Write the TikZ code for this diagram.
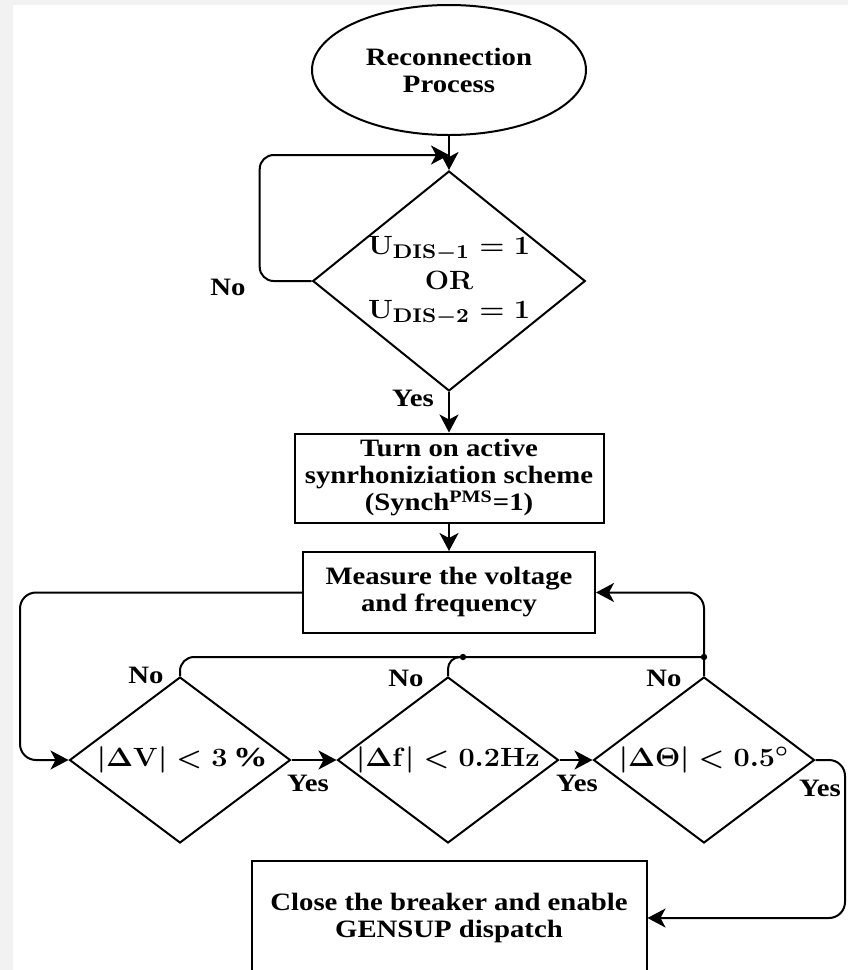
\documentclass[tikz,border=0pt]{standalone}
\usepackage{amsmath,amssymb}
\usepackage{graphicx}
\usepackage{fontspec}
\setmainfont{Liberation Serif}[FakeStretch=1.15]
\usepackage{tikz}
\usetikzlibrary{positioning,arrows.meta,shapes.geometric}

% math set a little wide, like the text
\newcommand{\widemath}[1]{\scalebox{1.2}[1.1]{$#1$}}

\begin{document}
\begin{tikzpicture}[x=0.5pt, y=-0.5pt, line width=1pt,
    font=\fontsize{12.5}{13.5}\selectfont\bfseries\boldmath,
    arr/.style={-{Stealth[length=9pt,width=9.5pt,inset=2.5pt]}},
    box/.style={draw, rectangle, align=center, inner sep=0pt},
    cond/.style={draw, diamond, inner sep=0pt, align=center},
    lbl/.style={inner sep=0pt}]
  % Page
  \useasboundingbox (0,0) rectangle (848,970);
  \fill[black!5] (0,0) rectangle (848,970);
  \fill[white] (13,5) rectangle (848,970);
  % Start and first check
  \node[draw, ellipse, minimum width=137pt, minimum height=65pt, align=center] (start) at (449,70) {Reconnection\\Process};
  \node[cond, minimum width=136pt, minimum height=110pt, aspect=1.24] (udis) at (449,281)
    {\widemath{\mathbf{U_{DIS-1}=1}}\\[4pt]\widemath{\mathbf{OR}}\\[1pt]\widemath{\mathbf{U_{DIS-2}=1}}};
  \coordinate (lp) at (449,155);
  % Boxes
  \node[box, minimum width=154.5pt, minimum height=44.5pt] (synch) at (449,478) {Turn on active\\synrhoniziation scheme\\(Synch\textsuperscript{PMS}=1)};
  \node[box, minimum width=146pt, minimum height=40.5pt] (meas) at (449,592.5) {Measure the voltage\\and frequency};
  % Three checks in a row
  \node[cond, minimum width=110.5pt, minimum height=83pt, aspect=1.33] (dv) at (180,760) {\widemath{|\Delta\mathbf{V}| < 3\,\%}};
  \node[cond, minimum width=110.5pt, minimum height=83pt, aspect=1.33] (df) at (448,760) {\widemath{|\Delta\mathbf{f}| < \mathbf{0.2Hz}}};
  \node[cond, minimum width=110.5pt, minimum height=83pt, aspect=1.33] (dt) at (704,760) {\widemath{|\Delta\Theta| < \mathbf{0.5}^{\circ}}};
  \node[box, minimum width=197.5pt, minimum height=57pt] (close) at (449,918) {Close the breaker and enable\\GENSUP dispatch};
  % Labels
  \node[lbl] (no1) at (228,287) {No};
  \node[lbl] (yes1) at (413,398) {Yes};
  \node[lbl] (nov) at (146,675) {No};
  \node[lbl] (nof) at (406,678) {No};
  \node[lbl] (not) at (664,678) {No};
  \node[lbl] (yesv) at (308,783) {Yes};
  \node[lbl] (yesf) at (577,783) {Yes};
  \node[lbl] (yest) at (820,788) {Yes};
  % Helper points
  \coordinate (jf) at (463,657);
  \coordinate (jt) at (704,657);
  \coordinate (lx) at (20,700);
  \coordinate (rx) at (845,850);
  % Connectors
  \draw[arr] (start.south) -- (udis.north);
  \draw[arr, rounded corners=7pt] (udis.west) -- ++(-52,0) |- (lp);
  \draw[arr] (udis.south) -- (synch.north);
  \draw[arr] (synch.south) -- (meas.north);
  \draw[arr, rounded corners=8pt] (meas.west) -| (lx) |- (dv.west);
  \draw[arr] (dv.east) -- (df.west);
  \draw[arr] (df.east) -- (dt.west);
  \draw[arr, rounded corners=8pt] (dt.north) |- (meas.east);
  \draw[rounded corners=7pt] (dv.north) |- (jt);
  \draw[rounded corners=6pt] (df.north) |- (jf);
  \fill (jf) circle (1.6pt);
  \fill (jt) circle (1.6pt);
  \draw[arr, rounded corners=8pt] (dt.east) -| (rx) |- (close.east);
\end{tikzpicture}
\end{document}
